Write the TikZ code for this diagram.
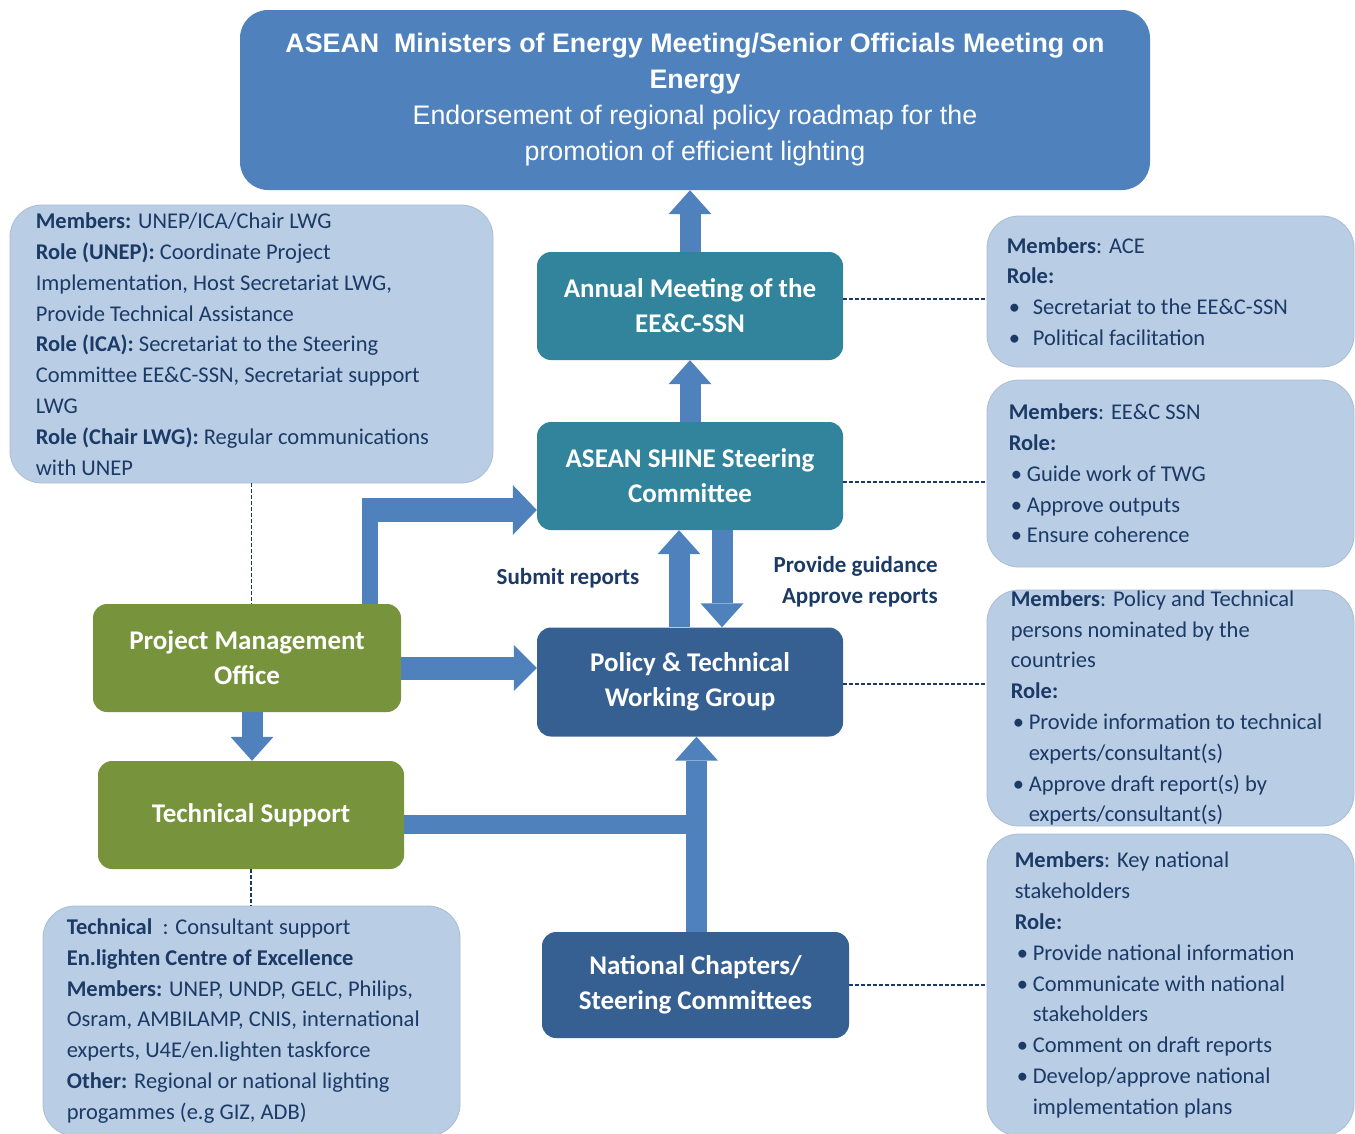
\documentclass[tikz,border=0pt]{standalone}
\usepackage{fontspec}
\setmainfont{Carlito}
\newfontfamily\arialfont{Liberation Sans}
\usetikzlibrary{arrows.meta,calc}
\definecolor{topblue}{HTML}{4F81BD}
\definecolor{arrowblue}{HTML}{4F81BD}
\definecolor{cteal}{HTML}{31849B}
\definecolor{cdark}{HTML}{376092}
\definecolor{cgreen}{HTML}{77933C}
\definecolor{infofill}{HTML}{B9CDE5}
\definecolor{infoedge}{HTML}{A9BCD4}
\definecolor{cnavy}{HTML}{1B3A66}
\begin{document}
\begin{tikzpicture}[x=1pt,y=-1pt,
  mainbox/.style={rounded corners=14pt, minimum width=306pt, minimum height=108pt, text=white, align=center, inner sep=0pt, font=\fontsize{27}{35}\selectfont\bfseries},
  infobox/.style={fill=infofill, draw=infoedge, line width=0.8pt, rounded corners=32pt, inner sep=0pt},
  infotext/.style={anchor=west, align=left, inner sep=0pt, text=cnavy, font=\fontsize{22.5}{30.8}\selectfont},
  bluearrow/.style={draw=arrowblue, line width=21pt, -{Triangle[width=43pt,length=24pt,line width=0pt]}},
  barline/.style={draw=arrowblue, line width=21pt},
  dashconn/.style={draw=cnavy, line width=1.2pt, dash pattern=on 4pt off 2pt},
  lbl/.style={text=cnavy, font=\fontsize{23}{31}\selectfont\bfseries, inner sep=0pt}
]
\useasboundingbox (0,0) rectangle (1355,1133);

% info boxes
\node[infobox, minimum width=483pt, minimum height=278pt] (infoL) at (251.5,344) {};
\node[infotext] (infoLt) at ([xshift=26pt]infoL.west) {\textbf{Members:} UNEP/ICA/Chair LWG\\
\textbf{Role (UNEP):} Coordinate Project\\
Implementation, Host Secretariat LWG,\\
Provide Technical Assistance\\
\textbf{Role (ICA):} Secretariat to the Steering\\
Committee EE\&C-SSN, Secretariat support\\
LWG\\
\textbf{Role (Chair LWG):} Regular communications\\
with UNEP};

\node[infobox, minimum width=367pt, minimum height=151pt] (r1) at (1170.5,291.5) {};
\node[infotext] (r1t) at ([xshift=20pt]r1.west) {\textbf{Members}: ACE\\
\textbf{Role:}\\
\makebox[26pt][l]{\hspace{2pt}\textbullet}Secretariat to the EE\&C-SSN\\
\makebox[26pt][l]{\hspace{2pt}\textbullet}Political facilitation};

\node[infobox, minimum width=367pt, minimum height=187pt] (r2) at (1170.5,473.5) {};
\node[infotext] (r2t) at ([xshift=22pt]r2.west) {\textbf{Members}: EE\&C SSN\\
\textbf{Role:}\\
\makebox[18pt][l]{\hspace{2pt}\textbullet}Guide work of TWG\\
\makebox[18pt][l]{\hspace{2pt}\textbullet}Approve outputs\\
\makebox[18pt][l]{\hspace{2pt}\textbullet}Ensure coherence};

\node[infobox, minimum width=367pt, minimum height=236pt] (r3) at (1170.5,708) {};
\node[infotext] (r3t) at ([xshift=24pt]r3.west) {\textbf{Members}: Policy and Technical\\
persons nominated by the\\
countries\\
\textbf{Role:}\\
\makebox[18pt][l]{\hspace{2pt}\textbullet}Provide information to technical\\
\hspace*{18pt}experts/consultant(s)\\
\makebox[18pt][l]{\hspace{2pt}\textbullet}Approve draft report(s) by\\
\hspace*{18pt}experts/consultant(s)};

\node[infobox, minimum width=367pt, minimum height=302pt] (r4) at (1170.5,985) {};
\node[infotext] (r4t) at ([xshift=28pt]r4.west) {\textbf{Members}: Key national\\
stakeholders\\
\textbf{Role:}\\
\makebox[18pt][l]{\hspace{2pt}\textbullet}Provide national information\\
\makebox[18pt][l]{\hspace{2pt}\textbullet}Communicate with national\\
\hspace*{18pt}stakeholders\\
\makebox[18pt][l]{\hspace{2pt}\textbullet}Comment on draft reports\\
\makebox[18pt][l]{\hspace{2pt}\textbullet}Develop/approve national\\
\hspace*{18pt}implementation plans};

\node[infobox, minimum width=417pt, minimum height=230pt] (infoB) at (251.5,1021) {};
\node[infotext] (infoBt) at ([xshift=24pt]infoB.west) {\textbf{Technical}\ \ : Consultant support\\
\textbf{En.lighten Centre of Excellence}\\
\textbf{Members:} UNEP, UNDP, GELC, Philips,\\
Osram, AMBILAMP, CNIS, international\\
experts, U4E/en.lighten taskforce\\
\textbf{Other:} Regional or national lighting\\
progammes (e.g GIZ, ADB)};

% main boxes
\node[fill=topblue, rounded corners=28pt, minimum width=910pt, minimum height=180pt, text=white, align=center, inner sep=0pt, font=\arialfont\fontsize{26.8}{36}\selectfont] (top) at (695,100)
 {\textbf{ASEAN\ \ Ministers of Energy Meeting/Senior Officials Meeting on}\\\textbf{Energy}\\Endorsement of regional policy roadmap for the\\promotion of efficient lighting};
\node[mainbox, fill=cteal] (annual) at (690,306) {Annual Meeting of the\\EE\&C-SSN};
\node[mainbox, fill=cteal] (shine) at (690,476) {ASEAN SHINE Steering\\Committee};
\node[mainbox, fill=cdark, minimum height=109pt] (ptwg) at (690,682) {Policy \& Technical\\Working Group};
\node[mainbox, fill=cdark, minimum width=307pt, minimum height=106pt] (natl) at (695.5,985) {National Chapters/\\Steering Committees};
\node[mainbox, fill=cgreen, minimum width=308pt] (pmo) at (247,658) {Project Management\\Office};
\node[mainbox, fill=cgreen] (ts) at (251,815) {Technical Support};

% labels
\node[lbl] (submit) at (568,578) {Submit reports};
\node[lbl, align=right, anchor=east] (guide) at (938,582) {Provide guidance\\Approve reports};

% arrows
\draw[bluearrow] (annual.north) -- (annual.north |- top.south);
\draw[bluearrow] (shine.north) -- (annual.south);
\draw[bluearrow] ([xshift=-11pt]ptwg.north) -- ([xshift=-11pt]shine.south);
\draw[bluearrow] ([xshift=32pt]shine.south) -- ([xshift=32pt]ptwg.north);
\draw[bluearrow] ([xshift=1pt]natl.north) -- ([xshift=1pt]natl.north |- ptwg.south);
\draw[barline, line width=19pt] ([yshift=-9pt]ts.east) -- ([yshift=-9pt]ts.east -| natl.north);
\draw[bluearrow, line width=23pt, -{Triangle[width=46pt,length=23pt,line width=0pt]}] ([yshift=-10pt]pmo.east) -- ([yshift=-10pt]pmo.east -| ptwg.west);
\draw[bluearrow] ([xshift=5pt]pmo.south) -- ([xshift=5pt]pmo.south |- ts.north);
\coordinate (elbow) at (370,510);
\draw[barline, line width=16pt] (pmo.north -| elbow) -- ([yshift=12pt]elbow);
\draw[bluearrow, line width=24pt, -{Triangle[width=50pt,length=24pt,line width=0pt]}] ([xshift=-8pt]elbow) -- (elbow -| shine.west);

% dashed connectors
\draw[dashconn] ([yshift=7pt]annual.east) -- ([yshift=7pt]annual.east -| r1.west);
\draw[dashconn] ([yshift=-6pt]shine.east) -- ([yshift=-6pt]shine.east -| r2.west);
\draw[dashconn] ([yshift=-2pt]ptwg.east) -- ([yshift=-2pt]ptwg.east -| r3.west);
\draw[dashconn] (natl.east) -- (natl.east -| r4.west);
\draw[dashconn] (infoL.south) -- (infoL.south |- pmo.north);
\draw[dashconn] (ts.south) -- (ts.south |- infoB.north);
\end{tikzpicture}
\end{document}
